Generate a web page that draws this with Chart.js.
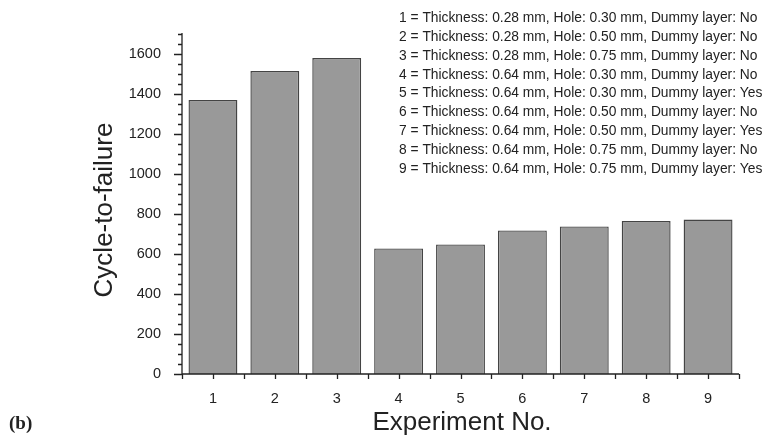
<!DOCTYPE html>
<html>
<head>
<meta charset="utf-8">
<script src="https://cdn.jsdelivr.net/npm/chart.js@4.4.1/dist/chart.umd.min.js"></script>
<style>
  html, body { margin: 0; padding: 0; background: #fff; }
  #wrap { width: 764px; height: 437px; }
</style>
</head>
<body>
<div id="wrap"><canvas id="chart" width="764" height="437"></canvas></div>
<script>
const experiments = [1, 2, 3, 4, 5, 6, 7, 8, 9];
const cycles = [1370, 1515, 1580, 628, 648, 718, 738, 765, 772];
const notes = [
  '1 = Thickness: 0.28 mm, Hole: 0.30 mm, Dummy layer: No',
  '2 = Thickness: 0.28 mm, Hole: 0.50 mm, Dummy layer: No',
  '3 = Thickness: 0.28 mm, Hole: 0.75 mm, Dummy layer: No',
  '4 = Thickness: 0.64 mm, Hole: 0.30 mm, Dummy layer: No',
  '5 = Thickness: 0.64 mm, Hole: 0.30 mm, Dummy layer: Yes',
  '6 = Thickness: 0.64 mm, Hole: 0.50 mm, Dummy layer: No',
  '7 = Thickness: 0.64 mm, Hole: 0.50 mm, Dummy layer: Yes',
  '8 = Thickness: 0.64 mm, Hole: 0.75 mm, Dummy layer: No',
  '9 = Thickness: 0.64 mm, Hole: 0.75 mm, Dummy layer: Yes'
];
const yMax = 1705;
const yMajor = 200, yMinor = 50;

const FONT = '"Liberation Sans", Arial, sans-serif';
const INK = '#222';

// axes, ticks and the text around the plot
const extras = {
  id: 'extras',
  afterDraw(chart) {
    const { ctx, chartArea: a, scales: { x, y } } = chart;
    ctx.save();
    ctx.strokeStyle = INK;
    ctx.lineWidth = 1.3;
    ctx.beginPath();
    ctx.moveTo(a.left, a.top); ctx.lineTo(a.left, a.bottom); ctx.lineTo(a.right, a.bottom);
    for (let v = 0; v <= yMax; v += yMinor) {
      const py = Math.round(y.getPixelForValue(v)) + 0.5;
      const len = v % yMajor === 0 ? 8 : 4;
      ctx.moveTo(a.left, py); ctx.lineTo(a.left - len, py);
    }
    for (let v = 0.5; v <= 9.5; v += 0.5) {
      const px = Math.round(x.getPixelForValue(v)) + 0.5;
      ctx.moveTo(px, a.bottom); ctx.lineTo(px, a.bottom + 5);
    }
    ctx.stroke();

    ctx.fillStyle = INK;
    ctx.font = '13.8px ' + FONT;
    ctx.textBaseline = 'middle';
    ctx.textAlign = 'left';
    notes.forEach((t, i) => ctx.fillText(t, 399, 18 + i * 18.9));

    ctx.font = '26px ' + FONT;
    ctx.textAlign = 'center';
    ctx.fillText('Experiment No.', 462, 423);
    ctx.save();
    ctx.translate(105, 210);
    ctx.rotate(-Math.PI / 2);
    ctx.fillText('Cycle-to-failure', 0, 0);
    ctx.restore();

    ctx.font = 'bold 19px "Liberation Serif", "Times New Roman", serif';
    ctx.textAlign = 'left';
    ctx.fillText('(b)', 9, 424);
    ctx.restore();
  }
};

new Chart(document.getElementById('chart'), {
  type: 'bar',
  data: {
    datasets: [{
      data: experiments.map((e, i) => ({ x: e, y: cycles[i] })),
      backgroundColor: '#999999',
      borderColor: '#444444',
      borderWidth: 1.4,
      barPercentage: 0.79,
      categoryPercentage: 1
    }]
  },
  options: {
    responsive: false,
    animation: false,
    layout: { padding: { left: 0, right: 25, top: 33, bottom: 0 } },
    plugins: { legend: { display: false }, tooltip: { enabled: false } },
    scales: {
      x: {
        type: 'linear', min: 0.5, max: 9.5, offset: false,
        afterBuildTicks: s => { s.ticks = experiments.map(v => ({ value: v })); },
        afterFit: s => { s.height = 63; },
        grid: { display: false },
        border: { display: false },
        ticks: { padding: 8, color: INK, font: { family: FONT, size: 14.5 }, callback: v => String(v) }
      },
      y: {
        min: 0, max: yMax,
        afterBuildTicks: s => {
          const t = [];
          for (let v = 0; v <= 1600; v += yMajor) t.push({ value: v });
          s.ticks = t;
        },
        afterFit: s => { s.width = 182; },
        grid: { display: false },
        border: { display: false },
        ticks: { padding: 13, color: INK, font: { family: FONT, size: 14.5 }, callback: v => String(v) }
      }
    }
  },
  plugins: [extras]
});
</script>
</body>
</html>
